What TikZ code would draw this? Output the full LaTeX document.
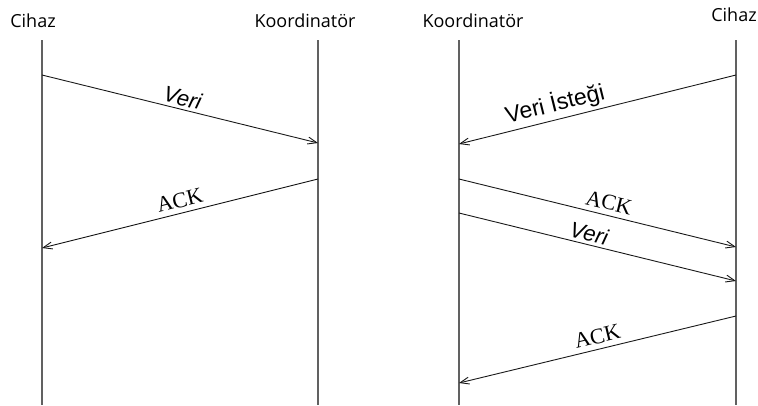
\documentclass[tikz,border=0pt]{standalone}
\usepackage{fontspec}
\setmainfont{Liberation Sans}
\newfontfamily\headfont{Open Sans}
\newfontfamily\arialfont{Liberation Sans}
\newfontfamily\timesfont{Liberation Serif}
\usetikzlibrary{arrows.meta}
\begin{document}
\begin{tikzpicture}[x=1pt,y=-1pt,
  lifeline/.style={draw=black!62, line width=1.3pt},
  msg/.style={draw=black!90, line width=0.9pt, -{Straight Barb[length=9pt,width=7pt]}},
  head/.style={font=\headfont\fontsize{18}{20}\selectfont, inner sep=0pt, anchor=base},
  lblit/.style={font=\arialfont\itshape\fontsize{22}{24}\selectfont, sloped, above=3pt, inner sep=0pt},
  lblup/.style={font=\arialfont\fontsize{23}{25}\selectfont, sloped, above=3pt, inner sep=0pt},
  lblser/.style={font=\timesfont\fontsize{22}{24}\selectfont, sloped, above=5pt, inner sep=0pt}
]
\useasboundingbox (0,0) rectangle (758,405);
% headers
\node[head] (hC1) at (33,27) {Cihaz};
\node[head] (hK1) at (305,27) {Koordinatör};
\node[head] (hK2) at (473,27) {Koordinatör};
\node[head] (hC2) at (734,21) {Cihaz};
% lifelines
\coordinate (a0) at (42,40);  \coordinate (a9) at (42,405);
\coordinate (b0) at (318,40); \coordinate (b9) at (318,405);
\coordinate (c0) at (459,40); \coordinate (c9) at (459,405);
\coordinate (d0) at (736,40); \coordinate (d9) at (736,405);
\draw[lifeline] (a0) -- (a9);
\draw[lifeline] (b0) -- (b9);
\draw[lifeline] (c0) -- (c9);
\draw[lifeline] (d0) -- (d9);
% message points
\coordinate (a1) at (42,75);   \coordinate (b1) at (318,143);
\coordinate (b2) at (318,179); \coordinate (a2) at (42,248);
\coordinate (d1) at (736,75);  \coordinate (c1) at (459,144);
\coordinate (c2) at (459,179); \coordinate (d2) at (736,247);
\coordinate (c3) at (459,213); \coordinate (d3) at (736,281);
\coordinate (d4) at (736,316); \coordinate (c4) at (459,383);
% messages
\draw[msg] (a1) -- node[lblit, pos=0.5] {Veri} (b1);
\draw[msg] (b2) -- node[lblser, pos=0.49] {ACK} (a2);
\draw[msg] (d1) -- node[lblup, pos=0.64] {Veri İsteği} (c1);
\draw[msg] (c2) -- node[lblser, pos=0.53] {ACK} (d2);
\draw[msg] (c3) -- node[lblit, pos=0.46] {Veri} (d3);
\draw[msg] (d4) -- node[lblser, pos=0.49] {ACK} (c4);
\end{tikzpicture}
\end{document}
